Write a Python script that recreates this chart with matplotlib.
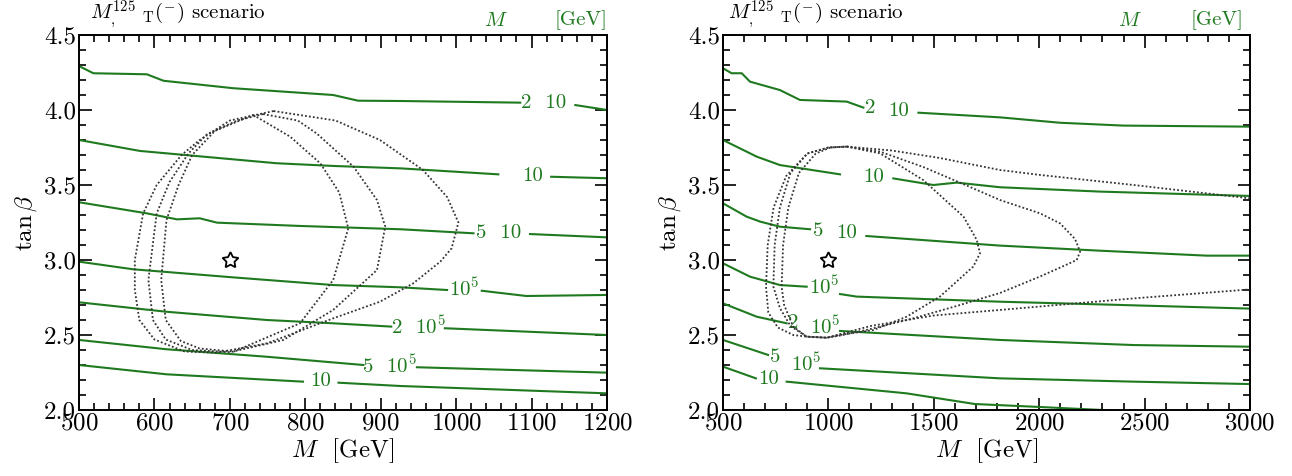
import numpy as np
import matplotlib
matplotlib.use("Agg")
import matplotlib.pyplot as plt
from matplotlib.ticker import MultipleLocator, FormatStrFormatter

nan = np.nan

# ---- left panel: green contour lines (nan = gap where the label sits) ----
left_l1_x = [500, 519, 590, 612, 705, 837, 870, 926, 1085, nan, 1158, 1200]
left_l1_y = [4.293, 4.245, 4.238, 4.195, 4.145, 4.10, 4.062, 4.06, 4.049, nan, 4.033, 4.0]
left_l2_x = [500, 581, 762, 837, 926, 1056, nan, 1126, 1200]
left_l2_y = [3.80, 3.727, 3.645, 3.627, 3.611, 3.571, nan, 3.555, 3.545]
left_l3_x = [500, 590, 630, 660, 683, 793, 926, 1023, nan, 1098, 1200]
left_l3_y = [3.385, 3.311, 3.271, 3.278, 3.249, 3.227, 3.205, 3.178, nan, 3.173, 3.151]
left_l4_x = [500, 572, 705, 837, 926, 988, nan, 1034, 1093, 1200]
left_l4_y = [2.989, 2.938, 2.884, 2.833, 2.818, 2.80, nan, 2.795, 2.76, 2.767]
left_l5_x = [500, 616, 749, 837, 914, nan, 985, 1200]
left_l5_y = [2.718, 2.655, 2.60, 2.578, 2.556, nan, 2.545, 2.50]
left_l6_x = [500, 616, 749, 877, nan, 948, 1200]
left_l6_y = [2.467, 2.405, 2.355, 2.30, nan, 2.285, 2.249]
left_l7_x = [500, 616, 797, nan, 844, 926, 1200]
left_l7_y = [2.30, 2.238, 2.189, nan, 2.182, 2.16, 2.111]

left_labels = ["2  10", "10", "5  10", r"$10^5$", r"2  $10^5$", r"5  $10^5$", "10"]
left_label_x = [1116, 1101, 1056, 1011, 950, 912, 820]
left_label_y = [4.045, 3.562, 3.178, 2.808, 2.555, 2.293, 2.192]

# ---- left panel: dotted regions ----
left_outer_x = [758, 840, 899, 956, 988, 1003, 994, 979, 943, 899, 837, 749, 682,
                640, 600, 580, 574, 574, 585, 603, 636, 660, 700, 758]
left_outer_y = [3.993, 3.93, 3.80, 3.60, 3.42, 3.25, 3.078, 2.989, 2.844, 2.722, 2.611, 2.444, 2.382,
                2.39, 2.47, 2.60, 2.80, 3.0, 3.31, 3.50, 3.70, 3.80, 3.93, 3.993]
left_mid_x = [744, 790, 815, 864, 895, 906, 895, 837, 771, 700, 650, 615, 598, 592,
              603, 620, 645, 670, 710, 744]
left_mid_y = [3.973, 3.93, 3.844, 3.622, 3.40, 3.222, 2.933, 2.667, 2.467, 2.385, 2.40, 2.47, 2.60, 2.867,
              3.311, 3.52, 3.71, 3.84, 3.93, 3.973]
left_inner_x = [731, 780, 820, 845, 857, 837, 793, 705, 660, 635, 615, 609, 616, 632, 650, 680, 731]
left_inner_y = [3.967, 3.822, 3.644, 3.45, 3.211, 2.867, 2.578, 2.389, 2.41, 2.46, 2.60, 2.867,
                3.267, 3.50, 3.70, 3.86, 3.967]
left_star = (700, 3.0)

# ---- right panel: green contour lines ----
right_l1_x = [500, 541, 589, 628, 770, 865, 1087, 1166, nan, 1427, 1814, 2099, 2400, 3000]
right_l1_y = [4.278, 4.245, 4.245, 4.189, 4.133, 4.067, 4.056, 4.016, nan, 3.982, 3.951, 3.915, 3.896, 3.889]
right_l2_x = [500, 660, 770, 1055, nan, 1308, 1498, 1609, 1814, 2289, 3000]
right_l2_y = [3.80, 3.689, 3.633, 3.571, nan, 3.544, 3.50, 3.516, 3.485, 3.456, 3.427]
right_l3_x = [500, 612, 676, 770, 913, nan, 1180, 1814, 2289, 2795, 3000]
right_l3_y = [3.378, 3.289, 3.256, 3.222, 3.205, nan, 3.16, 3.096, 3.062, 3.029, 3.029]
right_l4_x = [500, 628, 770, 897, nan, 1055, 1134, 1814, 2289, 3000]
right_l4_y = [2.978, 2.889, 2.833, 2.822, nan, 2.773, 2.756, 2.722, 2.704, 2.676]
right_l5_x = [500, 660, 802, nan, 1055, 1814, 2448, 3000]
right_l5_y = [2.711, 2.622, 2.578, nan, 2.527, 2.467, 2.433, 2.422]
right_l6_x = [500, 714, nan, 960, 1814, 2448, 3000]
right_l6_y = [2.467, 2.367, nan, 2.278, 2.211, 2.189, 2.173]
right_l7_x = [500, 656, nan, 802, 1371, 1694, 2004, 2300, 2500]
right_l7_y = [2.289, 2.211, nan, 2.189, 2.111, 2.04, 2.02, 2.0, 1.99]

# right panel labels: the prefactor and the power sit apart here
right_labels = ["2", "10", "10", "5", "10", r"$10^5$", "2", r"$10^5$", "5", r"$10^5$", "10"]
right_label_x = [1197, 1332, 1216, 952, 1087, 978, 832, 984, 747, 897, 717]
right_label_y = [4.011, 3.99, 3.555, 3.19, 3.18, 2.822, 2.578, 2.555, 2.355, 2.311, 2.204]

# ---- right panel: dotted regions ----
right_inner_x = [1087, 1245, 1450, 1641, 1704, 1719, 1687, 1529, 1371, 1213, 1055, 992, 897,
                 833, 790, 778, 785, 810, 860, 940, 1010, 1087]
right_inner_y = [3.756, 3.711, 3.533, 3.289, 3.133, 3.044, 2.956, 2.756, 2.622, 2.533, 2.50, 2.482, 2.489,
                 2.556, 2.70, 2.822, 3.10, 3.35, 3.58, 3.71, 3.75, 3.756]
right_mid_x = [1087, 1250, 1450, 1650, 1814, 2004, 2099, 2170, 2194, 2178, 2100, 2004, 1814, 1600,
               1400, 1200, 1050, 992, 897, 820, 770, 739, 745, 770, 820, 900, 1000, 1087]
right_mid_y = [3.756, 3.72, 3.62, 3.50, 3.40, 3.311, 3.244, 3.14, 3.056, 3.0, 2.95, 2.89, 2.78, 2.69,
               2.61, 2.54, 2.495, 2.482, 2.489, 2.56, 2.68, 2.822, 3.10, 3.35, 3.58, 3.71, 3.75, 3.756]
right_outer_x = [3000, 2448, 2004, 1814, 1529, 1300, 1087, 1000, 900, 800, 740, 712, 704, 715, 760,
                 833, 897, 992, 1200, 1500, 1814, 2448, 3000]
right_outer_y = [3.411, 3.50, 3.567, 3.60, 3.68, 3.73, 3.756, 3.75, 3.71, 3.56, 3.35, 3.10, 2.822, 2.65, 2.55,
                 2.50, 2.489, 2.482, 2.56, 2.63, 2.667, 2.744, 2.804]
right_star = (1000, 3.0)

GREEN = "#1f7a1f"
DOT = "#333333"

plt.rcParams["font.family"] = "serif"
plt.rcParams["font.serif"] = ["cmr10", "DejaVu Serif"]
plt.rcParams["mathtext.fontset"] = "cm"
plt.rcParams["axes.formatter.use_mathtext"] = True

fig = plt.figure(figsize=(12.92, 4.76), dpi=100)
ax1 = fig.add_axes([79 / 1292, 66 / 476, 528 / 1292, 375 / 476])
ax2 = fig.add_axes([723 / 1292, 66 / 476, 527 / 1292, 375 / 476])


def draw_panel(ax, lines, labels, lab_x, lab_y, dotted, star, xlim, xmaj, xmin):
    for xs, ys in lines:
        ax.plot(xs, ys, color=GREEN, lw=1.5, zorder=2)
    for t, x, y in zip(labels, lab_x, lab_y):
        ax.text(x, y, t, color=GREEN, fontsize=15, ha="center", va="center", zorder=3)
    for xs, ys in dotted:
        ax.plot(xs, ys, color=DOT, lw=1.3, ls=(0, (1, 1.2)), zorder=4)
    ax.plot([star[0]], [star[1]], marker=(5, 1), ms=12, mfc="none", mec="black", mew=1.3, zorder=5)

    ax.set_xlim(*xlim)
    ax.set_ylim(2.0, 4.5)
    ax.xaxis.set_major_locator(MultipleLocator(xmaj))
    ax.xaxis.set_minor_locator(MultipleLocator(xmin))
    ax.yaxis.set_major_locator(MultipleLocator(0.5))
    ax.yaxis.set_minor_locator(MultipleLocator(0.1))
    ax.yaxis.set_major_formatter(FormatStrFormatter("%.1f"))
    ax.tick_params(which="both", direction="in", top=True, right=True, labelsize=18, width=1.2)
    ax.tick_params(which="major", length=9, pad=2)
    ax.tick_params(which="minor", length=5)
    for s in ax.spines.values():
        s.set_linewidth(1.4)
    ax.set_xlabel(r"$M$  [GeV]", fontsize=18, labelpad=1)
    ax.set_ylabel(r"$\tan\beta$", fontsize=18, labelpad=4)


draw_panel(ax1,
           [(left_l1_x, left_l1_y), (left_l2_x, left_l2_y), (left_l3_x, left_l3_y),
            (left_l4_x, left_l4_y), (left_l5_x, left_l5_y), (left_l6_x, left_l6_y),
            (left_l7_x, left_l7_y)],
           left_labels, left_label_x, left_label_y,
           [(left_outer_x, left_outer_y), (left_mid_x, left_mid_y), (left_inner_x, left_inner_y)],
           left_star, (500, 1200), 100, 20)

draw_panel(ax2,
           [(right_l1_x, right_l1_y), (right_l2_x, right_l2_y), (right_l3_x, right_l3_y),
            (right_l4_x, right_l4_y), (right_l5_x, right_l5_y), (right_l6_x, right_l6_y),
            (right_l7_x, right_l7_y)],
           right_labels, right_label_x, right_label_y,
           [(right_outer_x, right_outer_y), (right_mid_x, right_mid_y), (right_inner_x, right_inner_y)],
           right_star, (500, 3000), 500, 100)

title = r"$M^{125}_{,}\ {}_{\mathrm{T}}(^{-})$ scenario"
ax1.text(0.02, 1.012, title, transform=ax1.transAxes, fontsize=15, ha="left", va="bottom")
ax1.text(0.79, 1.012, r"$M$", transform=ax1.transAxes, fontsize=15, color=GREEN, ha="center", va="bottom")
ax1.text(0.95, 1.012, "[GeV]", transform=ax1.transAxes, fontsize=15, color=GREEN, ha="center", va="bottom")
ax2.text(0.01, 1.012, title, transform=ax2.transAxes, fontsize=15, ha="left", va="bottom")
ax2.text(0.772, 1.012, r"$M$", transform=ax2.transAxes, fontsize=15, color=GREEN, ha="center", va="bottom")
ax2.text(0.937, 1.012, "[GeV]", transform=ax2.transAxes, fontsize=15, color=GREEN, ha="center", va="bottom")

fig.savefig("out.png", dpi=100)
